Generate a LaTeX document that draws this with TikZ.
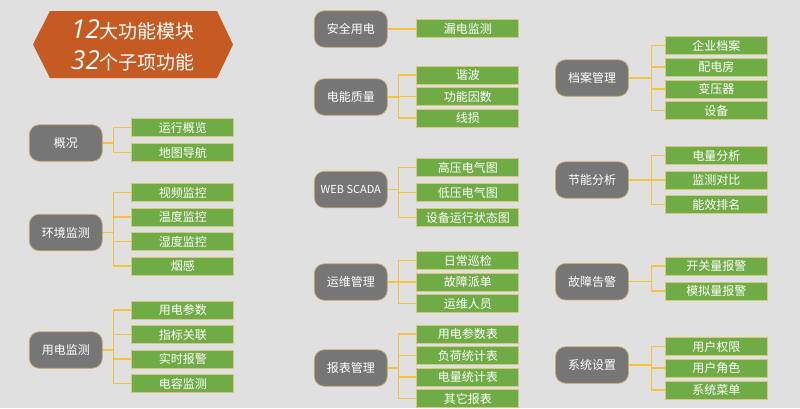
\documentclass[tikz,border=0pt]{standalone}
\usepackage{fontspec}
\newfontfamily\cjk{Noto Sans CJK SC}
\newfontfamily\numfont{Open Sans}
\definecolor{bg}{HTML}{E0E0E0}
\definecolor{gfill}{HTML}{767676}
\definecolor{gborder}{HTML}{C9AD6E}
\definecolor{ifill}{HTML}{6FAC46}
\definecolor{iborder}{HTML}{D6C77E}
\definecolor{lnk}{HTML}{F5C242}
\definecolor{banner}{HTML}{C55A22}
\tikzset{
  grp/.style={draw=gborder, fill=gfill, rounded corners=10pt, minimum width=73pt, minimum height=36.5pt, inner sep=0pt, text=white, font=\cjk\fontsize{12}{12}\selectfont, line width=0.7pt},
  item/.style={draw=iborder, fill=ifill, minimum width=102pt, minimum height=18.3pt, inner sep=0pt, text=white, font=\cjk\fontsize{12}{12}\selectfont, line width=0.7pt},
  link/.style={draw=lnk, line width=1.3pt},
  bannertext/.style={text=white, font=\cjk\fontsize{19}{19}\selectfont, inner sep=0pt, anchor=base}
}
\begin{document}
\begin{tikzpicture}[x=1pt,y=-1pt]
\fill[bg] (0,0) rectangle (800,408);
\useasboundingbox (0,0) rectangle (800,408);
% banner
\fill[banner] (33,44.5) -- (50,11) -- (217,11) -- (233,44.5) -- (217,78) -- (50,78) -- cycle;
\node[bannertext] (t1) at (133,38) {{\numfont\itshape\fontsize{26}{26}\selectfont 12}大功能模块};
\node[bannertext] (t2) at (133,69) {{\numfont\itshape\fontsize{26}{26}\selectfont 32}个子项功能};

% column 1
\node[grp] (a) at (65.8,143) {概况};
\node[item] (a1) at (182.8,127.5) {运行概览};
\node[item] (a2) at (182.8,152.5) {地图导航};
\node[grp] (b) at (65.8,232.5) {环境监测};
\node[item] (b1) at (182.8,192.5) {视频监控};
\node[item] (b2) at (182.8,217) {温度监控};
\node[item] (b3) at (182.8,241.5) {湿度监控};
\node[item] (b4) at (182.8,266) {烟感};
\node[grp] (c) at (65.8,350) {用电监测};
\node[item] (c1) at (182.8,310) {用电参数};
\node[item] (c2) at (182.8,334.5) {指标关联};
\node[item] (c3) at (182.8,359) {实时报警};
\node[item] (c4) at (182.8,383.5) {电容监测};
\foreach \p/\n in {a/2,b/4,c/4}{
  \foreach \i in {1,...,\n}{
    \draw[link] (\p.east) -- ++(11,0) |- (\p\i.west);
  }
}

% column 2
\node[grp] (d) at (350.8,29) {安全用电};
\node[item] (d1) at (467.8,28.5) {漏电监测};
\node[grp] (e) at (350.8,97) {电能质量};
\node[item] (e1) at (467.8,75) {谐波};
\node[item] (e2) at (467.8,96.5) {功能因数};
\node[item] (e3) at (467.8,118) {线损};
\node[grp] (f) at (350.8,189.5) {\fontsize{11}{11}\selectfont WEB SCADA};
\node[item] (f1) at (467.8,167.5) {高压电气图};
\node[item] (f2) at (467.8,192.5) {低压电气图};
\node[item] (f3) at (467.8,217.5) {设备运行状态图};
\node[grp] (g) at (350.8,282) {运维管理};
\node[item] (g1) at (467.8,260.5) {日常巡检};
\node[item] (g2) at (467.8,282) {故障派单};
\node[item] (g3) at (467.8,303.5) {运维人员};
\node[grp] (h) at (350.8,368) {报表管理};
\node[item] (h1) at (467.8,334) {用电参数表};
\node[item] (h2) at (467.8,355.5) {负荷统计表};
\node[item] (h3) at (467.8,377) {电量统计表};
\node[item] (h4) at (467.8,398.5) {其它报表};
\draw[link] (d.east) -- (d1.west |- d.east);
\foreach \p/\n in {e/3,f/3,g/3,h/4}{
  \foreach \i in {1,...,\n}{
    \draw[link] (\p.east) -- ++(11,0) |- (\p\i.west);
  }
}

% column 3
\node[grp] (i) at (592,78) {档案管理};
\node[item] (i1) at (716.3,45.5) {企业档案};
\node[item] (i2) at (716.3,67) {配电房};
\node[item] (i3) at (716.3,89) {变压器};
\node[item] (i4) at (716.3,110.5) {设备};
\node[grp] (j) at (592,180) {节能分析};
\node[item] (j1) at (716.3,155.5) {电量分析};
\node[item] (j2) at (716.3,180) {监测对比};
\node[item] (j3) at (716.3,204.5) {能效排名};
\node[grp] (k) at (592,281.7) {故障告警};
\node[item] (k1) at (716.3,266) {开关量报警};
\node[item] (k2) at (716.3,291) {模拟量报警};
\node[grp] (l) at (592,365) {系统设置};
\node[item] (l1) at (716.3,346.5) {用户权限};
\node[item] (l2) at (716.3,368) {用户角色};
\node[item] (l3) at (716.3,390) {系统菜单};
\foreach \p/\n in {i/4,j/3,k/2,l/3}{
  \foreach \i in {1,...,\n}{
    \draw[link] (\p.east) -- ++(22.5,0) |- (\p\i.west);
  }
}
\end{tikzpicture}
\end{document}
